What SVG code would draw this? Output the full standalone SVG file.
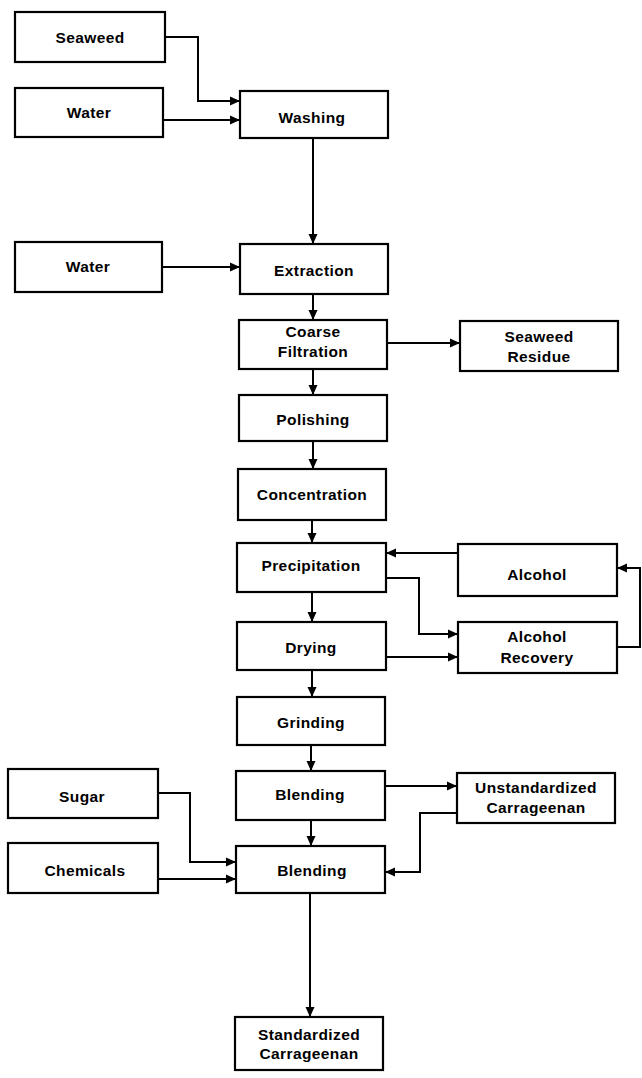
<svg xmlns="http://www.w3.org/2000/svg" width="642" height="1078" viewBox="0 0 642 1078">
<defs>
<marker id="ah" markerUnits="userSpaceOnUse" markerWidth="11" markerHeight="10" refX="10" refY="5" orient="auto">
<path d="M0,0.5 L10,5 L0,9.5 z" fill="#000"/>
</marker>
<style>
rect{fill:#fff;stroke:#000;stroke-width:2.2}
text{font-family:"Liberation Sans",Arial,sans-serif;font-weight:bold;font-size:15.5px;text-anchor:middle;fill:#000;letter-spacing:0.4px}
.c path{fill:none;stroke:#000;stroke-width:2;marker-end:url(#ah)}
</style>
</defs>
<rect x="0" y="0" width="642" height="1078" style="fill:#fff;stroke:none"/>
<g class="c" id="connectors">
<path d="M165,37 H198 V101 H240"/>
<path d="M163,120 H240"/>
<path d="M313,138 V244"/>
<path d="M162,267 H240"/>
<path d="M313,294 V320"/>
<path d="M387,343 H460"/>
<path d="M313,369 V395"/>
<path d="M313,441 V469"/>
<path d="M312,520 V543"/>
<path d="M458,553 H386"/>
<path d="M386,578 H419 V634 H458"/>
<path d="M312,592 V622"/>
<path d="M386,657 H458"/>
<path d="M617,647 H640 V568 H617"/>
<path d="M312,670 V697"/>
<path d="M311,745 V771"/>
<path d="M385,786 H457"/>
<path d="M311,820 V846"/>
<path d="M158,793 H190 V862 H236"/>
<path d="M158,879 H236"/>
<path d="M457,813 H420 V872 H385"/>
<path d="M310,893 V1017"/>
</g>
<g id="seaweed"><rect x="15" y="12" width="150" height="50"/><text x="90" y="43">Seaweed</text></g>
<g id="water1"><rect x="15" y="88" width="148" height="49"/><text x="89" y="118">Water</text></g>
<g id="washing"><rect x="240" y="91" width="148" height="47"/><text x="312" y="123">Washing</text></g>
<g id="water2"><rect x="15" y="242" width="147" height="50"/><text x="88" y="272">Water</text></g>
<g id="extraction"><rect x="240" y="244" width="148" height="50"/><text x="314" y="276">Extraction</text></g>
<g id="coarse"><rect x="239" y="320" width="148" height="49"/><text x="313" y="337">Coarse</text><text x="313" y="357">Filtration</text></g>
<g id="residue"><rect x="460" y="321" width="158" height="50"/><text x="539" y="342">Seaweed</text><text x="539" y="362">Residue</text></g>
<g id="polishing"><rect x="239" y="395" width="148" height="46"/><text x="313" y="425">Polishing</text></g>
<g id="concentration"><rect x="238" y="469" width="148" height="51"/><text x="312" y="500">Concentration</text></g>
<g id="precipitation"><rect x="237" y="543" width="149" height="49"/><text x="311" y="571">Precipitation</text></g>
<g id="alcohol"><rect x="458" y="544" width="159" height="52"/><text x="537" y="580">Alcohol</text></g>
<g id="drying"><rect x="237" y="622" width="149" height="48"/><text x="311" y="653">Drying</text></g>
<g id="recovery"><rect x="458" y="622" width="159" height="51"/><text x="537" y="642">Alcohol</text><text x="537" y="663">Recovery</text></g>
<g id="grinding"><rect x="237" y="697" width="148" height="48"/><text x="311" y="728">Grinding</text></g>
<g id="blending1"><rect x="236" y="771" width="149" height="49"/><text x="310" y="800">Blending</text></g>
<g id="sugar"><rect x="8" y="769" width="150" height="49"/><text x="82" y="802">Sugar</text></g>
<g id="chemicals"><rect x="8" y="843" width="150" height="50"/><text x="85" y="876">Chemicals</text></g>
<g id="blending2"><rect x="236" y="846" width="149" height="47"/><text x="312" y="876">Blending</text></g>
<g id="unstandardized"><rect x="457" y="773" width="158" height="50"/><text x="536" y="793">Unstandardized</text><text x="536" y="813">Carrageenan</text></g>
<g id="standardized"><rect x="235" y="1017" width="148" height="53"/><text x="309" y="1040">Standardized</text><text x="309" y="1059">Carrageenan</text></g>
</svg>
